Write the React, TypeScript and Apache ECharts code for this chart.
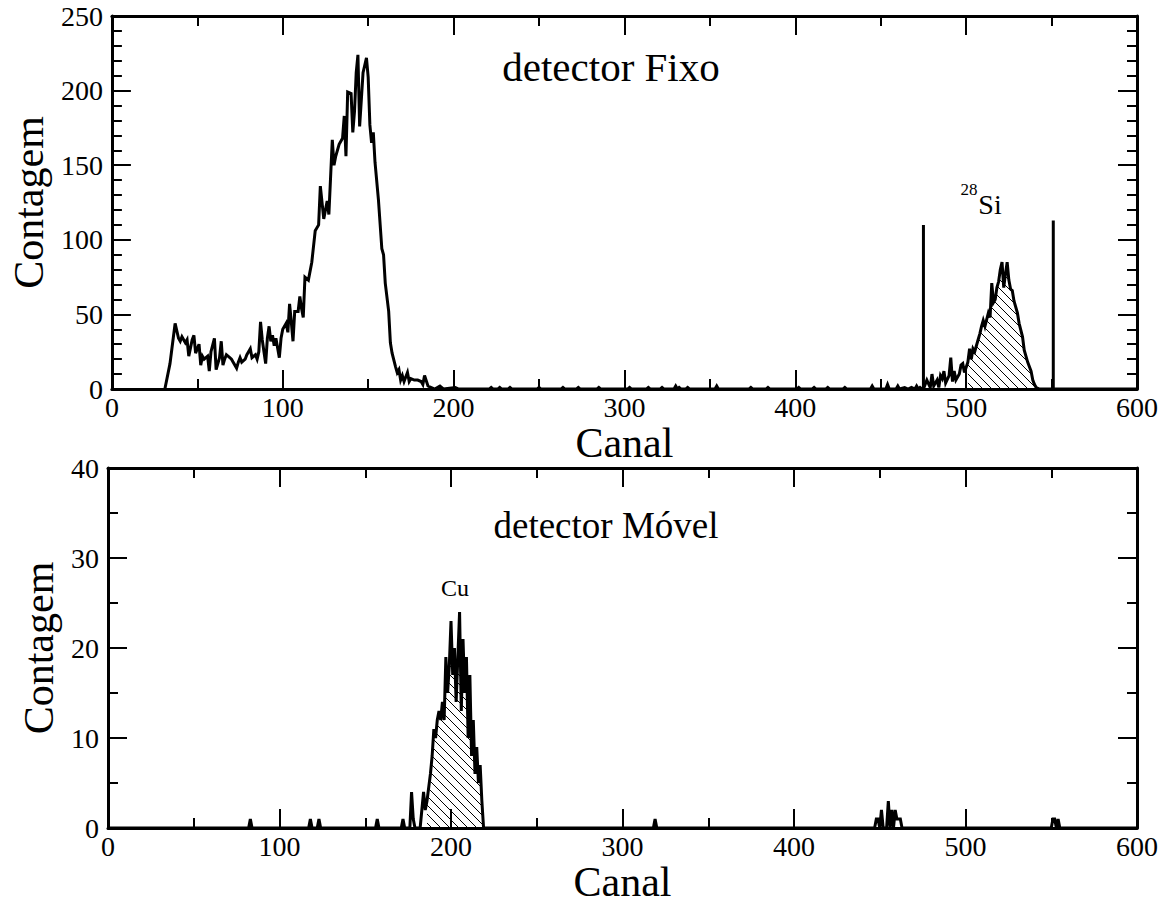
import { useEffect, useRef } from "react";
import * as echarts from "echarts";

const FONT = '"Liberation Serif", "Times New Roman", serif';

// ---- detector Fixo: counts per channel ----
const fixoCanal = [
  31, 34, 35, 37, 39, 40, 41, 43, 44, 45, 47, 48, 49, 51, 52, 53, 54, 56, 57, 58,
  60, 61, 63, 64, 65, 66, 67, 69, 70, 71, 73, 74, 75, 76, 78, 79, 80, 81, 82, 84,
  85, 86, 87, 88, 89, 90, 91, 92, 93, 94, 95, 96, 98, 99, 100, 102, 103, 104, 105, 106,
  107, 109, 110, 111, 112, 113, 115, 117, 119, 121, 122, 124, 126, 127, 129, 130, 131, 133, 135, 136,
  137, 138, 140, 141, 142, 143, 144, 145, 146, 147, 149, 150, 151, 152, 153, 154, 156, 158, 159, 160,
  162, 163, 164, 166, 167, 168, 169, 170, 171, 173, 174, 175, 177, 179, 181, 182, 183, 185, 187, 189,
  192, 194, 201, 203, 221, 222, 223, 226, 227, 228, 232, 233, 234, 249, 250, 251, 263, 264, 265, 272,
  273, 274, 284, 285, 286, 302, 303, 304, 313, 314, 315, 321, 322, 323, 329, 330, 331, 332, 333, 336,
  337, 338, 353, 354, 355, 373, 374, 375, 383, 384, 385, 401, 402, 403, 410, 411, 412, 418, 419, 420,
  428, 429, 430, 444, 445, 446, 453, 454, 455, 459, 460, 461, 464, 466, 468, 470, 471, 472, 473, 474,
  475, 477, 479, 480, 481, 483, 484, 485, 486, 487, 488, 490, 491, 492, 493, 494, 496, 497, 498, 499,
  501, 502, 503, 504, 505, 507, 508, 509, 510, 511, 513, 514, 515, 516, 517, 518, 519, 520, 521, 522,
  523, 524, 525, 526, 527, 528, 530, 531, 533, 534, 536, 538, 539, 540, 541, 543, 600,
];
const fixoContagem = [
  0, 17, 26, 44, 34, 32, 35, 31, 33, 22, 33, 36, 24, 30, 16, 22, 20, 22, 12, 25,
  34, 13, 21, 32, 16, 20, 23, 21, 20, 18, 14, 18, 21, 18, 20, 23, 25, 27, 21, 23,
  20, 25, 45, 33, 25, 17, 34, 42, 32, 36, 29, 34, 21, 34, 40, 44, 38, 57, 45, 32,
  52, 52, 62, 54, 48, 75, 73, 85, 106, 110, 136, 114, 126, 117, 167, 150, 156, 164, 168, 183,
  156, 199, 198, 172, 186, 212, 224, 176, 194, 212, 222, 209, 177, 165, 172, 152, 127, 94, 90, 71,
  52, 31, 24, 15, 11, 13, 6, 9, 5, 11, 5, 7, 6, 6, 5, 3, 9, 2, 1, 0,
  2, 0, 1, 0, 0, 1, 0, 0, 1, 0, 0, 1, 0, 0, 1, 0, 0, 1, 0, 0,
  1, 0, 0, 1, 0, 0, 1, 0, 0, 1, 0, 0, 1, 0, 0, 2, 0, 1, 0, 0,
  1, 0, 0, 2, 0, 0, 1, 0, 0, 1, 0, 0, 1, 0, 0, 1, 0, 0, 1, 0,
  0, 1, 0, 0, 2, 0, 0, 3, 0, 0, 2, 0, 1, 0, 1, 0, 2, 0, 1, 0,
  0, 6, 1, 10, 2, 6, 1, 9, 7, 12, 4, 9, 21, 5, 12, 6, 10, 16, 17, 11,
  18, 27, 20, 27, 25, 33, 37, 42, 46, 42, 51, 48, 71, 58, 60, 68, 72, 80, 85, 68,
  77, 85, 73, 67, 66, 59, 51, 44, 35, 26, 18, 12, 6, 3, 1, 0, 0,
];
// integration window of the 28Si peak (hatched) and the gate markers
const siJanela = [501, 543];
const fixoMarcadorCanal = [475, 551];
const fixoMarcadorAltura = [110, 113];

// ---- detector Móvel: counts per channel ----
const movelCanal = [
  0, 82, 83, 84, 117, 118, 119, 122, 123, 124, 156, 157, 158, 171, 172, 173, 176, 177, 178, 179,
  182, 183, 184, 185, 186, 188, 189, 190, 191, 192, 193, 194, 195, 196, 197, 198, 199, 200, 201, 202,
  203, 204, 205, 206, 207, 208, 209, 210, 211, 212, 213, 214, 215, 216, 217, 218, 219, 318, 319, 320,
  447, 448, 449, 450, 451, 452, 454, 455, 456, 457, 458, 459, 460, 461, 462, 463, 550, 551, 552, 553,
  554, 555, 600,
];
const movelContagem = [
  0, 0, 1, 0, 0, 1, 0, 0, 1, 0, 0, 1, 0, 0, 1, 0, 0, 4, 1, 0,
  0, 2, 4, 2, 3, 6, 8, 11, 10, 12, 13, 12, 14, 12, 19, 15, 18, 23, 17, 20,
  14, 19, 24, 13, 21, 15, 19, 10, 17, 8, 12, 6, 9, 5, 7, 3, 0, 0, 1, 0,
  0, 1, 1, 0, 2, 0, 0, 3, 0, 2, 0, 2, 1, 1, 1, 0, 0, 1, 1, 0,
  1, 0, 0,
];
// integration window of the Cu peak (hatched)
const cuJanela = [186, 219];

const xTicks = { min: 0, max: 600, interval: 100 };
const yFixo = { min: 0, max: 250, interval: 50, minor: 5 };
const yMovel = { min: 0, max: 40, interval: 10, minor: 2 };

function pares(canais: number[], valores: number[]) {
  return canais.map((c, i) => [c, valores[i]]);
}

function janela(data: number[][], [a, b]: number[]) {
  return data.filter((p) => p[0] >= a && p[0] <= b);
}

function hachura(): HTMLCanvasElement {
  const c = document.createElement("canvas");
  c.width = 9;
  c.height = 9;
  const g = c.getContext("2d")!;
  g.strokeStyle = "#000";
  g.lineWidth = 1;
  g.beginPath();
  g.moveTo(-1, -1);
  g.lineTo(10, 10);
  g.moveTo(-1, 8);
  g.lineTo(1, 10);
  g.moveTo(8, -1);
  g.lineTo(10, 1);
  g.stroke();
  return c;
}

const black = "#000";
const tickStyle = { color: black, width: 2 };

function xAxis(grid: number, pos: "bottom" | "top") {
  const main = pos === "bottom";
  return {
    type: "value",
    gridIndex: grid,
    position: pos,
    min: xTicks.min,
    max: xTicks.max,
    interval: xTicks.interval,
    axisLine: { show: true, onZero: false, lineStyle: { color: black, width: 3 } },
    axisTick: { show: true, inside: true, length: 19, lineStyle: tickStyle },
    minorTick: { show: true, splitNumber: 2, length: 10, lineStyle: tickStyle },
    splitLine: { show: false },
    axisLabel: {
      show: main,
      fontFamily: FONT,
      fontSize: 28,
      color: black,
      margin: 4,
    },
    name: main ? "Canal" : "",
    nameLocation: "middle",
    nameGap: 33,
    nameTextStyle: { fontFamily: FONT, fontSize: 42, color: black },
  };
}

function yAxis(grid: number, pos: "left" | "right", s: typeof yFixo) {
  const main = pos === "left";
  return {
    type: "value",
    gridIndex: grid,
    position: pos,
    min: s.min,
    max: s.max,
    interval: s.interval,
    axisLine: { show: true, onZero: false, lineStyle: { color: black, width: 3 } },
    axisTick: { show: true, inside: true, length: 19, lineStyle: tickStyle },
    minorTick: { show: true, splitNumber: s.minor, length: 10, lineStyle: tickStyle },
    splitLine: { show: false },
    axisLabel: {
      show: main,
      fontFamily: FONT,
      fontSize: 28,
      color: black,
      margin: 9,
    },
    name: main ? "Contagem" : "",
    nameLocation: "middle",
    nameGap: 45,
    nameTextStyle: { fontFamily: FONT, fontSize: 42, color: black },
  };
}

function texto(text: string, x: number, y: number, size: number) {
  return {
    type: "text",
    x,
    y,
    silent: true,
    style: {
      text,
      font: `${size}px ${FONT}`,
      fill: black,
      align: "center",
      verticalAlign: "middle",
      textAlign: "center",
      textVerticalAlign: "middle",
    },
  };
}

export default function App() {
  const ref = useRef<HTMLDivElement>(null);

  useEffect(() => {
    if (!ref.current) return;
    const chart = echarts.init(ref.current, undefined, { renderer: "svg" });
    const padrao = { image: hachura(), repeat: "repeat" };

    const fixo = pares(fixoCanal, fixoContagem);
    const movel = pares(movelCanal, movelContagem);

    const linha = {
      type: "line",
      symbol: "none",
      animation: false,
      silent: true,
    };

    const marcadores = fixoMarcadorCanal.map((c, i) => ({
      ...linha,
      xAxisIndex: 0,
      yAxisIndex: 0,
      data: [
        [c, 0],
        [c, fixoMarcadorAltura[i]],
      ],
      lineStyle: { color: black, width: 3 },
      z: 4,
    }));

    chart.setOption({
      animation: false,
      backgroundColor: "#fff",
      grid: [
        { left: 108, top: 16, width: 1029, height: 373 },
        { left: 108, top: 468, width: 1029, height: 360 },
      ],
      xAxis: [xAxis(0, "bottom"), xAxis(0, "top"), xAxis(1, "bottom"), xAxis(1, "top")],
      yAxis: [
        yAxis(0, "left", yFixo),
        yAxis(0, "right", yFixo),
        yAxis(1, "left", yMovel),
        yAxis(1, "right", yMovel),
      ],
      series: [
        {
          ...linha,
          xAxisIndex: 0,
          yAxisIndex: 0,
          data: janela(fixo, siJanela),
          lineStyle: { width: 0, opacity: 0 },
          areaStyle: { color: padrao, opacity: 1 },
          z: 1,
        },
        {
          ...linha,
          xAxisIndex: 0,
          yAxisIndex: 0,
          data: fixo,
          lineStyle: { color: black, width: 3, join: "miter", miterLimit: 10 },
          z: 3,
        },
        ...marcadores,
        {
          ...linha,
          xAxisIndex: 2,
          yAxisIndex: 2,
          data: janela(movel, cuJanela),
          lineStyle: { width: 0, opacity: 0 },
          areaStyle: { color: padrao, opacity: 1 },
          z: 1,
        },
        {
          ...linha,
          xAxisIndex: 2,
          yAxisIndex: 2,
          data: movel,
          clip: false,
          lineStyle: { color: black, width: 3, join: "miter", miterLimit: 10 },
          z: 3,
        },
      ],
      graphic: [
        texto("detector Fixo", 611, 67, 41),
        texto("detector Móvel", 606, 525, 37),
        texto("28", 969, 189, 17),
        texto("Si", 990, 204, 28),
        texto("Cu", 455, 588, 24),
      ],
    });

    return () => chart.dispose();
  }, []);

  return (
    <div
      ref={ref}
      style={{ position: "absolute", left: 0, top: 0, width: 1166, height: 904 }}
    />
  );
}
